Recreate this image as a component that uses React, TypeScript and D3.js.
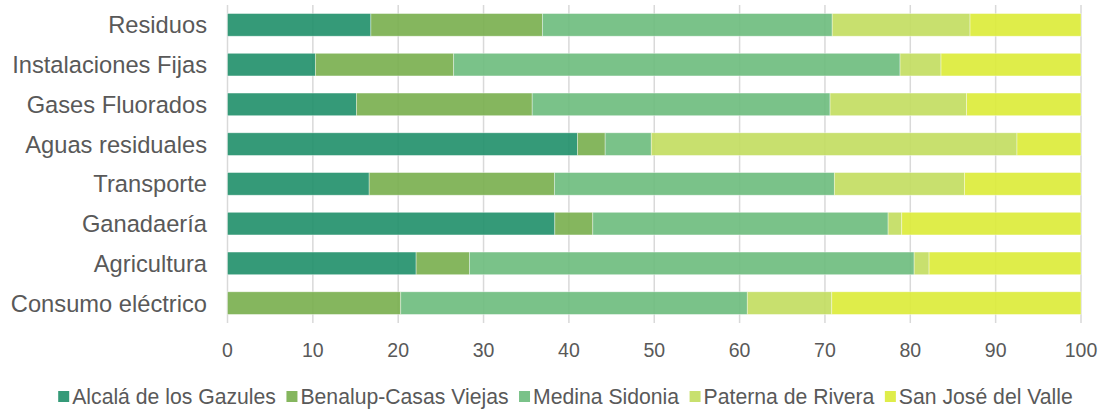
import React, { useEffect, useRef } from "react";
import * as d3 from "d3";

// data
const categories = [
  "Residuos",
  "Instalaciones Fijas",
  "Gases Fluorados",
  "Aguas residuales",
  "Transporte",
  "Ganadaería",
  "Agricultura",
  "Consumo eléctrico",
];
const seriesNames = [
  "Alcalá de los Gazules",
  "Benalup-Casas Viejas",
  "Medina Sidonia",
  "Paterna de Rivera",
  "San José del Valle",
];
const alcala = [16.8, 10.3, 15.1, 41.0, 16.6, 38.35, 22.1, 0];
const benalup = [20.1, 16.2, 20.6, 3.25, 21.7, 4.45, 6.25, 20.3];
const medina = [33.95, 52.3, 34.9, 5.4, 32.8, 34.6, 52.1, 40.6];
const paterna = [16.15, 4.8, 16.0, 42.85, 15.25, 1.6, 1.75, 9.9];
const sanJose = [13.0, 16.4, 13.4, 7.5, 13.65, 21.0, 17.8, 29.2];
const xTicks = [0, 10, 20, 30, 40, 50, 60, 70, 80, 90, 100];

const colors = ["#1f8f69", "#78ae4d", "#6cbb7c", "#c2dd5e", "#dbeb36"];

const W = 1105;
const H = 413;
const FONT = "'Liberation Sans', Arial, sans-serif";

const App = () => {
  const ref = useRef<SVGSVGElement | null>(null);

  useEffect(() => {
    const svg = d3.select(ref.current);
    svg.selectAll("*").remove();

    const x = d3.scaleLinear().domain([0, 100]).range([227.5, 1081]);
    const y = d3
      .scaleBand<string>()
      .domain(categories)
      .range([5, 323])
      .paddingInner(0.43)
      .paddingOuter(0.215);

    // gridlines
    svg
      .append("g")
      .selectAll("line")
      .data(xTicks)
      .enter()
      .append("line")
      .attr("x1", (d) => x(d))
      .attr("x2", (d) => x(d))
      .attr("y1", 5)
      .attr("y2", 323)
      .attr("stroke", "#d9d9d9")
      .attr("stroke-width", 1.5);

    // stacked bars
    const rows = categories.map((c, i) => ({
      cat: c,
      vals: [alcala[i], benalup[i], medina[i], paterna[i], sanJose[i]],
    }));
    const segs: { cat: string; s: number; x0: number; x1: number }[] = [];
    rows.forEach((r) => {
      let acc = 0;
      r.vals.forEach((v, s) => {
        segs.push({ cat: r.cat, s, x0: acc, x1: acc + v });
        acc += v;
      });
    });
    svg
      .append("g")
      .selectAll("rect")
      .data(segs.filter((d) => d.x1 > d.x0))
      .enter()
      .append("rect")
      .attr("x", (d) => x(d.x0))
      .attr("width", (d) => x(d.x1) - x(d.x0))
      .attr("y", (d) => y(d.cat) ?? 0)
      .attr("height", y.bandwidth())
      .attr("fill", (d) => colors[d.s])
      .attr("fill-opacity", 0.9)
      .attr("stroke", "#ffffff")
      .attr("stroke-opacity", 0.5)
      .attr("stroke-width", 0.75);

    // x tick labels
    svg
      .append("g")
      .selectAll("text")
      .data(xTicks)
      .enter()
      .append("text")
      .attr("x", (d) => x(d))
      .attr("y", 357)
      .attr("text-anchor", "middle")
      .attr("font-family", FONT)
      .attr("font-size", 19.5)
      .attr("fill", "#595959")
      .text((d) => d);

    // category labels
    svg
      .append("g")
      .selectAll("text")
      .data(categories)
      .enter()
      .append("text")
      .attr("x", 207)
      .attr("y", (d) => (y(d) ?? 0) + y.bandwidth() / 2)
      .attr("dy", "0.36em")
      .attr("text-anchor", "end")
      .attr("font-family", FONT)
      .attr("font-size", 23.7)
      .attr("fill", "#595959")
      .text((d) => d);

    // legend
    const legend = svg.append("g");
    const sq = 11;
    const gapSq = 3;
    const gapItem = 10.5;
    let cx = 0;
    seriesNames.forEach((name, i) => {
      const g = legend.append("g").attr("transform", `translate(${cx},0)`);
      g.append("rect")
        .attr("x", 0)
        .attr("y", 391)
        .attr("width", sq)
        .attr("height", sq)
        .attr("fill", colors[i])
        .attr("fill-opacity", 0.9);
      const t = g
        .append("text")
        .attr("x", sq + gapSq)
        .attr("y", 404)
        .attr("font-family", FONT)
        .attr("font-size", 21.2)
        .attr("fill", "#595959")
        .text(name);
      const w = (t.node() as SVGTextElement).getComputedTextLength();
      cx += sq + gapSq + w + gapItem;
    });
    const total = cx - gapItem;
    legend.attr("transform", `translate(${565.5 - total / 2},0)`);
  }, []);

  return (
    <svg
      ref={ref}
      width={W}
      height={H}
      style={{ position: "absolute", left: 0, top: 0, background: "#fff" }}
    />
  );
};

export default App;
